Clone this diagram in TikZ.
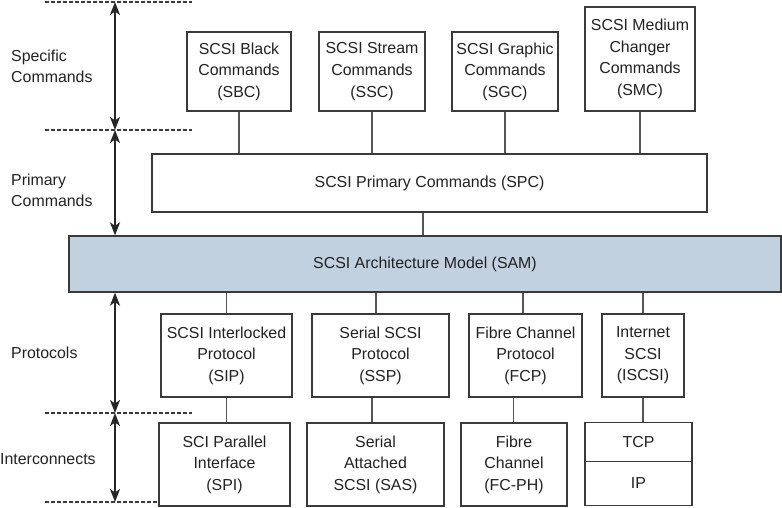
\documentclass[tikz,border=0pt]{standalone}
\usepackage{fontspec}
\setmainfont{Liberation Sans}
\usetikzlibrary{arrows.meta}
\definecolor{edge}{HTML}{3A3A3A}
\definecolor{conn}{HTML}{555555}
\definecolor{samfill}{HTML}{C1D1E0}
\definecolor{txt}{HTML}{222222}
\tikzset{
  box/.style={draw=edge, line width=1.2pt, fill=white, inner sep=0pt, align=center,
    text=txt, font=\fontsize{15.9}{21.6}\selectfont},
  connline/.style={draw=conn, line width=1.2pt},
  sep/.style={draw=edge, line width=1.7pt, dash pattern=on 4pt off 2pt},
  span/.style={draw=black!85, line width=2pt, {Stealth[length=13pt,width=10pt,inset=3.5pt]}-{Stealth[length=13pt,width=10pt,inset=3.5pt]}},
  lab/.style={anchor=west, align=left, inner sep=0pt, text=txt, font=\fontsize{15.9}{21}\selectfont}
}
\begin{document}
\begin{tikzpicture}[x=1pt,y=-1pt]
\useasboundingbox (0,0) rectangle (782,508);
% separators
\coordinate (d1l) at (45,2);   \coordinate (d1r) at (192,2);
\coordinate (d2l) at (45,130); \coordinate (d2r) at (192,130);
\coordinate (d3l) at (45,413); \coordinate (d3r) at (192,413);
\coordinate (d4l) at (45,502); \coordinate (d4r) at (159,502);
\draw[sep] (d1l) -- (d1r);
\draw[sep] (d2l) -- (d2r);
\draw[sep] (d3l) -- (d3r);
\draw[sep] (d4l) -- (d4r);
% top boxes
\node[box, minimum width=104pt, minimum height=79pt] (SBC) at (239,71.5) {SCSI Black\\Commands\\(SBC)};
\node[box, minimum width=106pt, minimum height=79pt] (SSC) at (372,71.5) {SCSI Stream\\Commands\\(SSC)};
\node[box, minimum width=106pt, minimum height=79pt] (SGC) at (505,71.5) {SCSI Graphic\\Commands\\(SGC)};
\node[box, minimum width=110pt, minimum height=104pt] (SMC) at (640,59) {SCSI Medium\\Changer\\Commands\\(SMC)};
\node[box, minimum width=555pt, minimum height=58pt] (SPC) at (429.5,183) {SCSI Primary Commands (SPC)};
\node[box, fill=samfill, minimum width=712pt, minimum height=56pt] (SAM) at (425,264) {SCSI Architecture Model (SAM)};
% protocols
\node[box, minimum width=131pt, minimum height=83pt] (SIP) at (226.5,355.5) {SCSI Interlocked\\Protocol\\(SIP)};
\node[box, minimum width=137pt, minimum height=83pt] (SSP) at (380.5,355.5) {Serial SCSI\\Protocol\\(SSP)};
\node[box, minimum width=113pt, minimum height=83pt] (FCP) at (525.5,355.5) {Fibre Channel\\Protocol\\(FCP)};
\node[box, minimum width=82pt, minimum height=83pt] (ISC) at (643,355.5) {Internet\\SCSI\\(ISCSI)};
% interconnects
\node[box, minimum width=131pt, minimum height=83pt] (SPI) at (224.5,464.5) {SCI Parallel\\Interface\\(SPI)};
\node[box, minimum width=137pt, minimum height=83pt] (SAS) at (375.5,464.5) {Serial\\Attached\\SCSI (SAS)};
\node[box, minimum width=106pt, minimum height=83pt] (FCPH) at (514,464.5) {Fibre\\Channel\\(FC-PH)};
\node[box, minimum width=107pt, minimum height=39pt] (TCP) at (638.5,442) {TCP};
\node[box, minimum width=107pt, minimum height=44pt] (IP) at (638.5,483.5) {IP};
% connectors
\draw[connline] (SBC.south) -- (SBC.south |- SPC.north);
\draw[connline] (SSC.south) -- (SSC.south |- SPC.north);
\draw[connline] (SGC.south) -- (SGC.south |- SPC.north);
\draw[connline] (SMC.south) -- (SMC.south |- SPC.north);
\draw[connline] ([xshift=-6.5pt]SPC.south) -- ([xshift=-6.5pt]SPC.south |- SAM.north);
\draw[connline] (SIP.north) -- (SIP.north |- SAM.south);
\draw[connline] ([xshift=-4.5pt]SSP.north) -- ([xshift=-4.5pt]SSP.north |- SAM.south);
\draw[connline] ([xshift=-2.5pt]FCP.north) -- ([xshift=-2.5pt]FCP.north |- SAM.south);
\draw[connline] (ISC.north) -- (ISC.north |- SAM.south);
\draw[connline] (SIP.south) -- (SIP.south |- SPI.north);
\draw[connline] ([xshift=-8.5pt]SSP.south) -- ([xshift=-8.5pt]SSP.south |- SAS.north);
\draw[connline] ([xshift=-12pt]FCP.south) -- ([xshift=-12pt]FCP.south |- FCPH.north);
\draw[connline] (ISC.south) -- (ISC.south |- TCP.north);
% spans
\coordinate (a1) at (115,2);
\coordinate (a2) at (115,130);
\coordinate (a3) at (115,413);
\coordinate (a4) at (115,502);
\draw[span] (a1) -- (a2);
\draw[span] (a2) -- (a2 |- SAM.north);
\draw[span] (a2 |- SAM.south) -- (a3);
\draw[span] (a3) -- (a4);
% labels
\node[lab] (l1) at (11,66.5) {Specific\\Commands};
\node[lab] (l2) at (11,190) {Primary\\Commands};
\node[lab] (l3) at (11,353) {Protocols};
\node[lab] (l4) at (0,459) {Interconnects};
\end{tikzpicture}
\end{document}
